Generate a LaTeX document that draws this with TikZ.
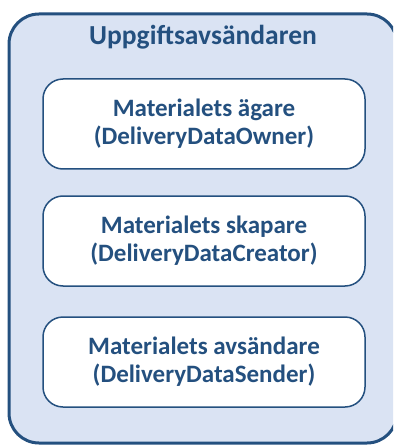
\documentclass[tikz,border=0pt]{standalone}
\usepackage{fontspec}
\setmainfont{Carlito}
\usepackage{xcolor}
\usetikzlibrary{positioning}
\definecolor{navy}{HTML}{24507F}
\definecolor{paleblue}{HTML}{DAE3F3}
\tikzset{
  rolebox/.style={draw=navy, line width=1.5pt, fill=white, rounded corners=20pt,
    minimum width=322pt, minimum height=90pt, align=center, text=navy,
    font=\fontsize{25}{28}\selectfont\bfseries},
  grouptitle/.style={text=navy, font=\fontsize{27.5}{31}\selectfont\bfseries},
}

\begin{document}
\begin{tikzpicture}[x=1pt,y=-1pt]
\useasboundingbox (0,0) rectangle (393,446);
\begin{scope}
\clip (0,0) rectangle (393,446);
\draw[navy, line width=3pt, fill=paleblue, rounded corners=30pt] (9,14) rectangle (397,443);
\end{scope}
\node[grouptitle] (sender) at (203,37) {Uppgiftsavsändaren};
\node[rolebox] (owner) at (204,124) {Materialets ägare\\(DeliveryDataOwner)};
\node[rolebox] (creator) at (204,241) {Materialets skapare\\(DeliveryDataCreator)};
\node[rolebox] (sendr) at (204,362) {Materialets avsändare\\(DeliveryDataSender)};
\end{tikzpicture}
\end{document}
